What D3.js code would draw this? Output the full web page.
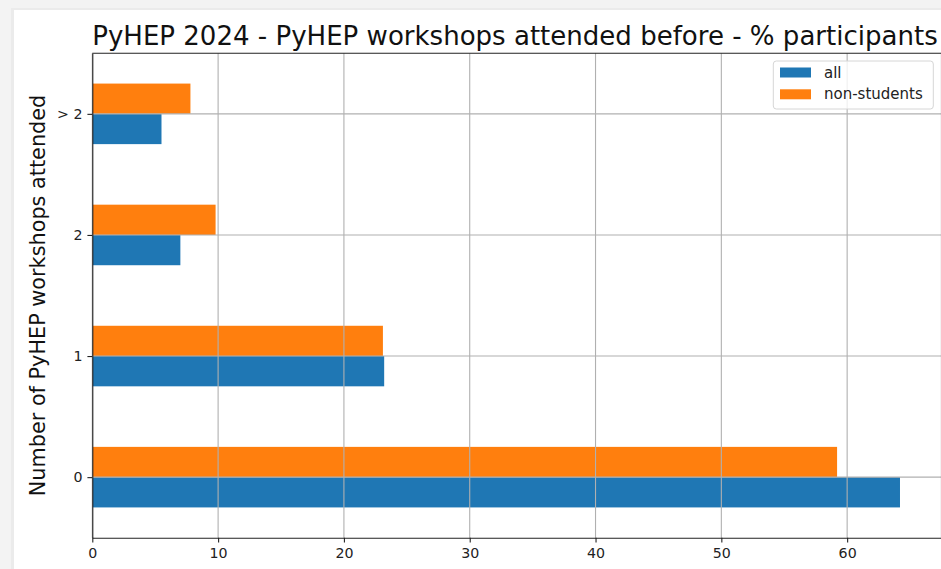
<!DOCTYPE html>
<html>
<head>
<meta charset="utf-8">
<script src="https://cdn.jsdelivr.net/npm/d3@7"></script>
<style>
  body { margin: 0; background: #f2f2f2; }
  svg { display: block; font-family: "DejaVu Sans", sans-serif; }
</style>
</head>
<body>
<div id="chart"></div>
<script>
// Data
var categories = ["0", "1", "2", "> 2"];
var allValues = [64.2, 23.2, 7.0, 5.5];
var nonStudentValues = [59.2, 23.1, 9.8, 7.8];
var xTicks = [0, 10, 20, 30, 40, 50, 60];
var seriesNames = ["all", "non-students"];
var seriesColors = ["#1f77b4", "#ff7f0e"];

var svgWidth = 941;
var svgHeight = 569;

var margin = { top: 53.3, right: -0.5, bottom: 31.3, left: 92.3 };
var width = svgWidth - margin.left - margin.right;
var height = svgHeight - margin.top - margin.bottom;

var svg = d3.select("#chart")
    .append("svg")
    .attr("width", svgWidth)
    .attr("height", svgHeight);

// screenshot frame: gray strip at left and top, white page
svg.append("rect").attr("width", svgWidth).attr("height", svgHeight).attr("fill", "#f3f3f3");
svg.append("rect").attr("x", 11).attr("y", 8).attr("width", svgWidth).attr("height", svgHeight).attr("fill", "#ebebeb");
svg.append("rect").attr("x", 14).attr("y", 10).attr("width", svgWidth).attr("height", svgHeight).attr("fill", "#ffffff");

var chartGroup = svg.append("g")
    .attr("transform", `translate(${margin.left}, ${margin.top})`);

var xScale = d3.scaleLinear()
    .domain([0, 67.5])
    .range([0, width]);

var yScale = d3.scaleLinear()
    .domain([-0.5, categories.length - 0.5])
    .range([height, 0]);

var barHeight = 0.25;

// bars: "all" below the tick, "non-students" above
var rows = categories.map(function(c, i) {
    return { i: i, all: allValues[i], non: nonStudentValues[i] };
});

chartGroup.selectAll(".bar-all")
    .data(rows)
    .enter()
    .append("rect")
    .attr("class", "bar-all")
    .attr("x", xScale(0))
    .attr("y", d => yScale(d.i))
    .attr("width", d => xScale(d.all) - xScale(0))
    .attr("height", yScale(-barHeight) - yScale(0))
    .attr("fill", seriesColors[0]);

chartGroup.selectAll(".bar-non")
    .data(rows)
    .enter()
    .append("rect")
    .attr("class", "bar-non")
    .attr("x", xScale(0))
    .attr("y", d => yScale(d.i + barHeight))
    .attr("width", d => xScale(d.non) - xScale(0))
    .attr("height", yScale(-barHeight) - yScale(0))
    .attr("fill", seriesColors[1]);

// grid drawn over the bars
var grid = chartGroup.append("g").attr("stroke", "#b0b0b0").attr("stroke-width", 1.1);
grid.selectAll(".vgrid")
    .data(xTicks)
    .enter()
    .append("line")
    .attr("x1", d => xScale(d)).attr("x2", d => xScale(d))
    .attr("y1", 0).attr("y2", height);
grid.selectAll(".hgrid")
    .data(categories.map((c, i) => i))
    .enter()
    .append("line")
    .attr("x1", 0).attr("x2", width)
    .attr("y1", d => yScale(d)).attr("y2", d => yScale(d));

// axes
var bottomAxis = d3.axisBottom(xScale)
    .tickValues(xTicks)
    .tickSize(4.9)
    .tickPadding(4.9)
    .tickSizeOuter(0);
var leftAxis = d3.axisLeft(yScale)
    .tickValues(categories.map((c, i) => i))
    .tickFormat((d, i) => categories[i])
    .tickSize(4.9)
    .tickPadding(4.9)
    .tickSizeOuter(0);

var xAxisG = chartGroup.append("g")
    .attr("transform", `translate(0, ${height})`)
    .call(bottomAxis);
var yAxisG = chartGroup.append("g")
    .call(leftAxis);

[xAxisG, yAxisG].forEach(function(g) {
    g.attr("font-size", null).attr("font-family", null);
    g.selectAll("text").style("font-size", "14.2px").style("font-family", "DejaVu Sans").attr("fill", "#222");
    g.selectAll("line").attr("stroke", "#222").attr("stroke-width", 1.1);
    g.select(".domain").attr("stroke", "#222").attr("stroke-width", 1.1);
});

// top and right spines
chartGroup.append("line")
    .attr("x1", 0).attr("x2", width).attr("y1", 0).attr("y2", 0)
    .attr("stroke", "#222").attr("stroke-width", 1.1);
chartGroup.append("line")
    .attr("x1", width).attr("x2", width).attr("y1", 0).attr("y2", height)
    .attr("stroke", "#222").attr("stroke-width", 1.1);

// title, sized to the width it takes in the picture
var title = svg.append("text")
    .attr("x", 515)
    .attr("y", 45)
    .attr("text-anchor", "middle")
    .style("font-size", "26px")
    .attr("fill", "#111")
    .text("PyHEP 2024 - PyHEP workshops attended before - % participants");
var titleLen = title.node().getComputedTextLength();
title.style("font-size", (26 * 846 / titleLen) + "px");

// Y axis label
svg.append("text")
    .attr("transform", "rotate(-90)")
    .attr("x", -(margin.top + height / 2))
    .attr("y", 44.5)
    .attr("text-anchor", "middle")
    .style("font-size", "20.8px")
    .attr("fill", "#111")
    .text("Number of PyHEP workshops attended");

// legend
var legend = svg.append("g").attr("transform", "translate(773.3, 61)");
legend.append("rect")
    .attr("width", 160).attr("height", 48)
    .attr("rx", 3)
    .attr("fill", "#ffffff").attr("fill-opacity", 0.8)
    .attr("stroke", "#d6d6d6").attr("stroke-width", 1);
seriesNames.forEach(function(name, i) {
    legend.append("rect")
        .attr("x", 6.7).attr("y", 6.5 + i * 21.8)
        .attr("width", 31).attr("height", 10)
        .attr("fill", seriesColors[i]);
    legend.append("text")
        .attr("x", 50.7).attr("y", 16.5 + i * 21.8)
        .style("font-size", "15px")
        .attr("fill", "#222")
        .text(name);
});
</script>
</body>
</html>
